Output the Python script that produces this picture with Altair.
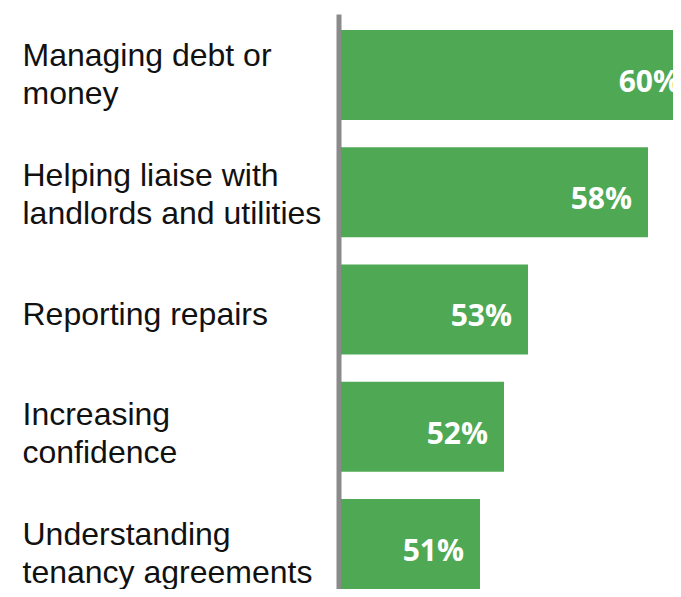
import altair as alt
import pandas as pd

categories = [
    "Managing debt or\nmoney",
    "Helping liaise with\nlandlords and utilities",
    "Reporting repairs",
    "Increasing\nconfidence",
    "Understanding\ntenancy agreements",
]
values = [60, 58, 53, 52, 51]
value_labels = ["60%", "58%", "53%", "52%", "51%"]

df = pd.DataFrame({"category": categories, "value": values, "label": value_labels})

y = alt.Y(
    "category:N",
    sort=categories,
    scale=alt.Scale(paddingInner=0.2324, paddingOuter=0.0682, align=1.0),
    axis=alt.Axis(labels=False, ticks=False, title=None, domain=True,
                  domainColor="#8a8a8a", domainWidth=5, offset=2.5, grid=False),
)
x = alt.X("value:Q", scale=alt.Scale(domain=[45.208, 59.042], zero=False, nice=False), axis=None)

bars = alt.Chart(df).mark_bar(color="#4FA853", clip=True).encode(x=x, y=y)
vals = alt.Chart(df).mark_text(
    clip=True, align="right", baseline="alphabetic", dx=-16, dy=17,
    font="Open Sans", fontWeight="bold", fontSize=30, color="white",
).encode(x=x, y=y, text="label:N")

y_lab = alt.Y("category:N", sort=categories,
              scale=alt.Scale(type="point", padding=0.4, align=0.636), axis=None)
label_style = dict(align="left", baseline="middle", lineBreak="\n", lineHeight=38,
                   font="Liberation Sans", fontSize=32, color="#111111")
cats_two = alt.Chart(df).transform_filter(
    "indexof(datum.category, '\\n') >= 0"
).mark_text(dy=-19, **label_style).encode(x=alt.value(-318.5), y=y_lab, text="category:N")
cats_one = alt.Chart(df).transform_filter(
    "indexof(datum.category, '\\n') < 0"
).mark_text(**label_style).encode(x=alt.value(-318.5), y=y_lab, text="category:N")

chart = (
    alt.layer(alt.layer(bars, vals), alt.layer(cats_two, cats_one))
    .resolve_scale(y="independent")
    .properties(
        width=332, height=575,
        padding={"left": 333, "top": 6, "right": 0, "bottom": 0},
        autosize=alt.AutoSizeParams(type="none"),
    )
    .configure_view(stroke=None)
)

chart.save("out.html", embed_options={"renderer": "svg", "actions": False})
